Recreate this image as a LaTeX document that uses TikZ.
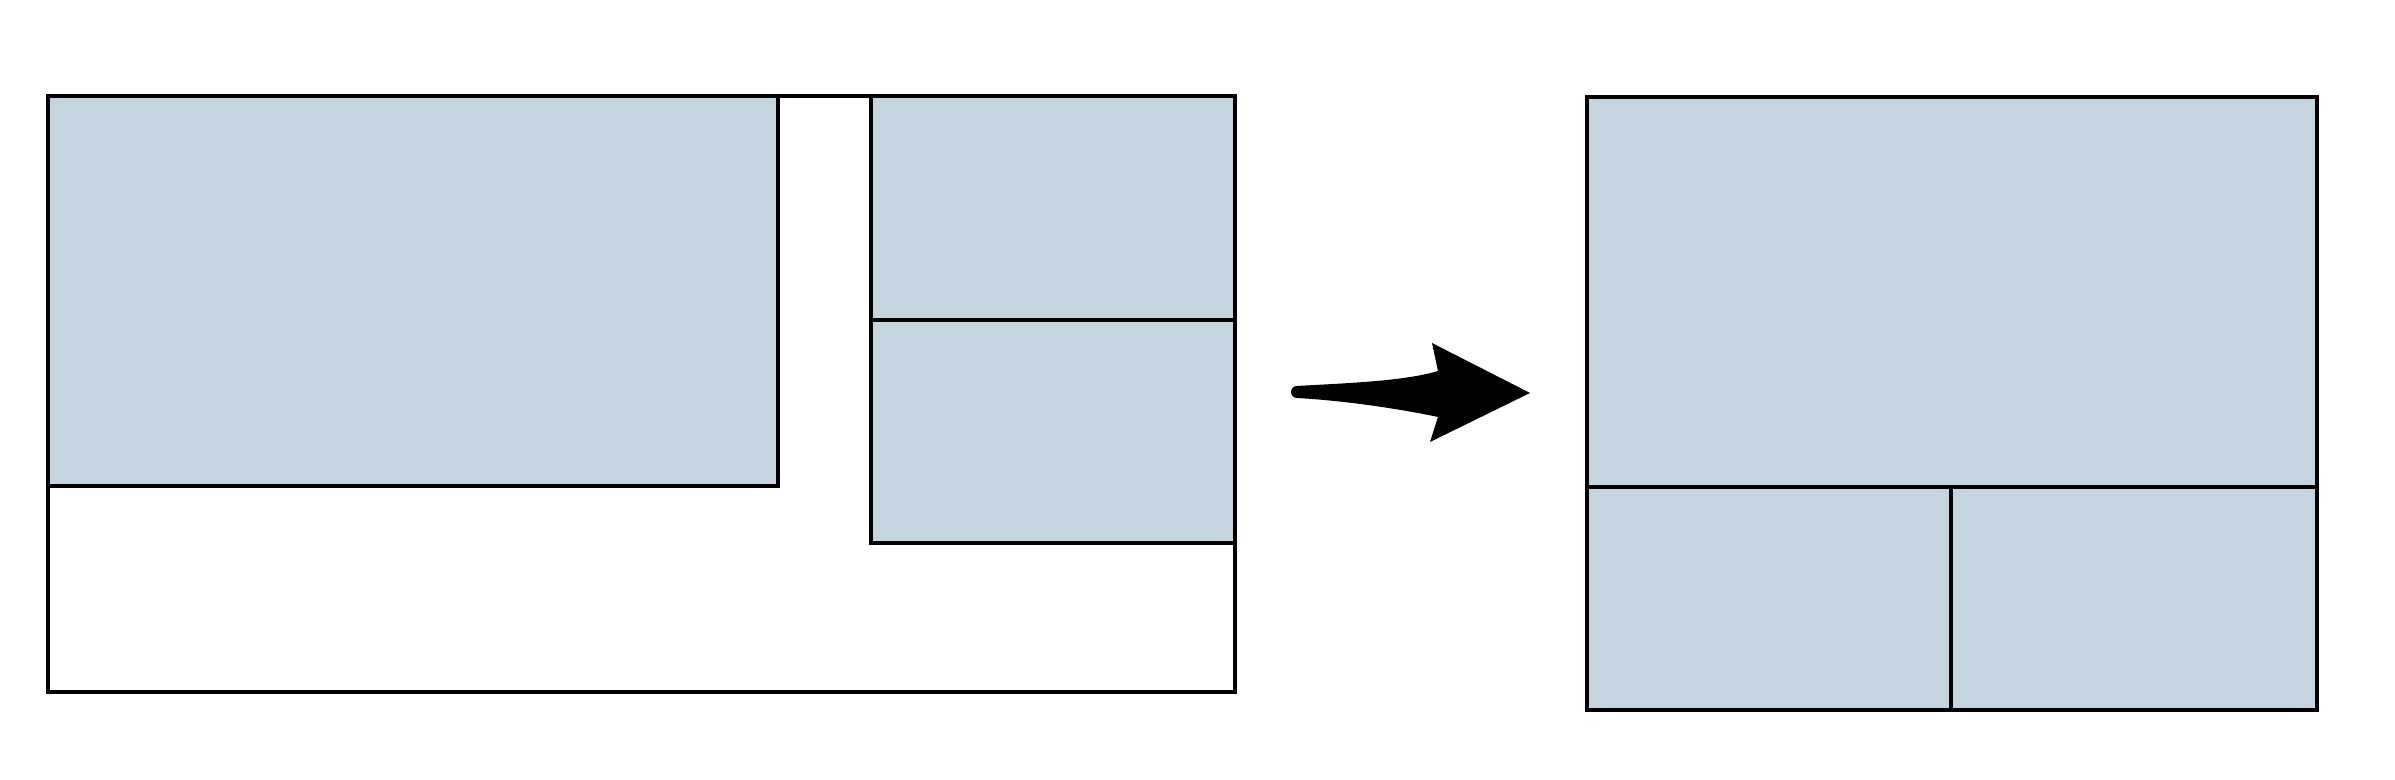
\documentclass[tikz,border=0pt]{standalone}
\usepackage{tikz}

\definecolor{paneblue}{RGB}{196,213,224}

\begin{document}
\begin{tikzpicture}[
    pane/.style={draw=black, fill=paneblue, line width=0.9pt},
    frame/.style={draw=black, fill=white, line width=0.9pt}
  ]
            % Fix the page size
            \useasboundingbox (0,0) rectangle (23.95,7.8);

            % Draw the left frame
            \draw[frame] (0.48,0.88) rectangle (12.35,6.84);

            % Draw the big pane of the left frame
            \draw[pane] (0.48,2.94) rectangle (7.78,6.84);

            % Draw the two small panes on the right side
            \draw[pane] (8.71,4.60) rectangle (12.35,6.84);
            \draw[pane] (8.71,2.37) rectangle (12.35,4.60);

            % Draw the arrow between the two frames
            \fill[black] (12.97,3.94)
              .. controls (13.5,3.97) and (14.05,3.99) .. (14.38,4.09)
              -- (14.32,4.37) -- (15.30,3.87) -- (14.30,3.38) -- (14.38,3.63)
              .. controls (14.05,3.70) and (13.5,3.79) .. (12.97,3.82)
              arc (270:90:0.06) -- cycle;

            % Draw the right frame
            \draw[frame] (15.87,0.70) rectangle (23.17,6.83);

            % Draw the top pane of the right frame
            \draw[pane] (15.87,2.93) rectangle (23.17,6.83);

            % Draw the two bottom panes
            \draw[pane] (15.87,0.70) rectangle (19.51,2.93);
            \draw[pane] (19.51,0.70) rectangle (23.17,2.93);
\end{tikzpicture}
\end{document}
